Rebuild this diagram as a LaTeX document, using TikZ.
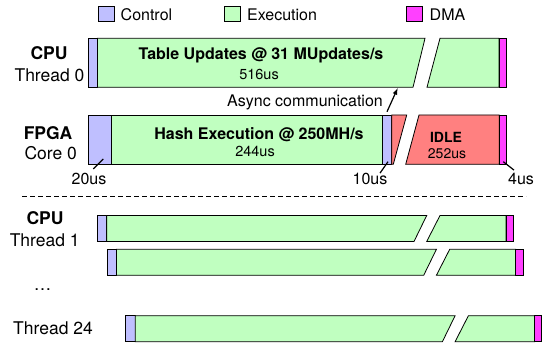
\documentclass[tikz,border=0pt]{standalone}
\usepackage{fontspec}
\setmainfont{TeX Gyre Heros}
\usepackage{xcolor}
\usepackage{tikz}
\usetikzlibrary{shapes,arrows,positioning,calc}

\definecolor{ctrlblue}{RGB}{191,191,255}
\definecolor{execgreen}{RGB}{192,255,192}
\definecolor{dmapink}{RGB}{255,64,255}
\definecolor{idlered}{RGB}{255,128,128}

\begin{document}
\begin{tikzpicture}[x=1pt,y=-1pt,
  ctrl/.style={fill=ctrlblue,draw=black,line width=0.8pt},
  exec/.style={fill=execgreen,draw=black,line width=0.8pt},
  dma/.style={fill=dmapink,draw=black,line width=0.8pt},
  idle/.style={fill=idlered,draw=black,line width=0.8pt},
  lbl/.style={inner sep=0pt,text depth=0pt},
  side/.style={lbl,font=\fontsize{17.5}{20}\selectfont},
  sidebf/.style={lbl,font=\fontsize{17.5}{20}\selectfont\bfseries},
  legtxt/.style={lbl,anchor=west,font=\fontsize{16}{18}\selectfont},
  bartitle/.style={lbl,font=\fontsize{16}{18}\selectfont\bfseries},
  bartime/.style={lbl,font=\fontsize{14.5}{17}\selectfont},
  timelbl/.style={lbl,font=\fontsize{16}{18}\selectfont},
  tick/.style={line width=1.2pt}]

\useasboundingbox (0,0) rectangle (543,347);

% Legend
\draw[ctrl] (98,6.7) rectangle (114,21.7);
\node[legtxt] (lgctrl) at (120.5,15) {Control};
\draw[exec] (224,6.7) rectangle (240,21.7);
\node[legtxt] (lgexec) at (247,15) {Execution};
\draw[dma] (406,6.7) rectangle (422,21.7);
\node[legtxt] (lgdma) at (429.5,15) {DMA};

% CPU thread 0
\node[sidebf] (cpu0) at (49,53.3) {CPU};
\node[side] (thr0) at (49.5,75) {Thread 0};
\draw[ctrl] (88,38.3) rectangle (97.5,87.3);
\draw[exec] (97.5,38.3) -- (425,38.3) -- (413,87.3) -- (97.5,87.3) -- cycle;
\draw[exec] (440,38.3) -- (499,38.3) -- (499,87.3) -- (427,87.3) -- cycle;
\draw[dma] (499,38.3) rectangle (506,87.3);
\node[bartitle] (upd) at (261,53.3) {Table Updates @ 31 MUpdates/s};
\node[bartime] (upd516) at (259,74) {516us};

% Async arrow
\node[legtxt,anchor=east] (async) at (383,101) {Async communication};
\coordinate (asyncend) at (397.6,88.3);
\draw[tick,-latex] ([shift={(4,4.7)}]async.south east) -- (asyncend);

% FPGA core 0
\node[sidebf] (fpga) at (48,133.3) {FPGA};
\node[side] (core0) at (50.7,153.3) {Core 0};
\draw[ctrl] (88.3,115) rectangle (111.7,164.3);
\draw[exec] (111.7,115) rectangle (382.7,164.3);
\draw[ctrl] (382.7,115) rectangle (391.7,164.3);
\draw[idle] (391.7,115) -- (406.7,115) -- (393.3,164.3) -- (391.7,164.3) -- cycle;
\draw[idle] (419,115) -- (499.3,115) -- (499.3,164.3) -- (405.7,164.3) -- cycle;
\draw[dma] (499.3,115) rectangle (506.7,164.3);
\node[bartitle] (hash) at (259,133.3) {Hash Execution @ 250MH/s};
\node[bartime] (hash244) at (255,151.7) {244us};
\node[lbl,font=\fontsize{14}{16}\selectfont\bfseries] (idle) at (446,137) {IDLE};
\node[bartime,font=\fontsize{14}{16}\selectfont] (idle252) at (447,154) {252us};

% Timing marks
\node[timelbl] (t20) at (89,179) {20us};
\node[timelbl] (t10) at (370,179) {10us};
\node[timelbl] (t4) at (521,179) {4us};
\coordinate (c20) at (103.3,159);
\coordinate (c10) at (388,161.7);
\coordinate (c4) at (503.3,161.7);
\draw[tick] ([shift={(4.3,-4.2)}]t20.north) -- (c20);
\draw[tick] ([shift={(10,0)}]t10.north) -- (c10);
\draw[tick] ([shift={(-7,-3)}]t4.north) -- (c4);

% Separator
\draw[line width=0.8pt,dash pattern=on 5pt off 3pt] (22,196.7) -- (526,196.7);

% Other CPU threads
\node[sidebf] (cpu1) at (45,218.3) {CPU};
\node[side] (thr1) at (44.7,240) {Thread 1};
\node[side] (dots) at (42.5,289.3) {\dots};
\node[side] (thr24) at (53,328.3) {Thread 24};
\foreach \dx/\yt in {97.3/215.5, 107/249.3, 125.7/315.7} {
  \begin{scope}[shift={(\dx,\yt)},every path/.append style={draw=black!75}]
    \draw[ctrl] (0,0) rectangle (9.5,26);
    \draw[exec] (9.5,0) -- (329.4,0) -- (316.7,26) -- (9.5,26) -- cycle;
    \draw[exec] (342.7,0) -- (408.7,0) -- (408.7,26) -- (329.4,26) -- cycle;
    \draw[dma] (408.7,0) rectangle (416,26);
  \end{scope}
}

\end{tikzpicture}
\end{document}
